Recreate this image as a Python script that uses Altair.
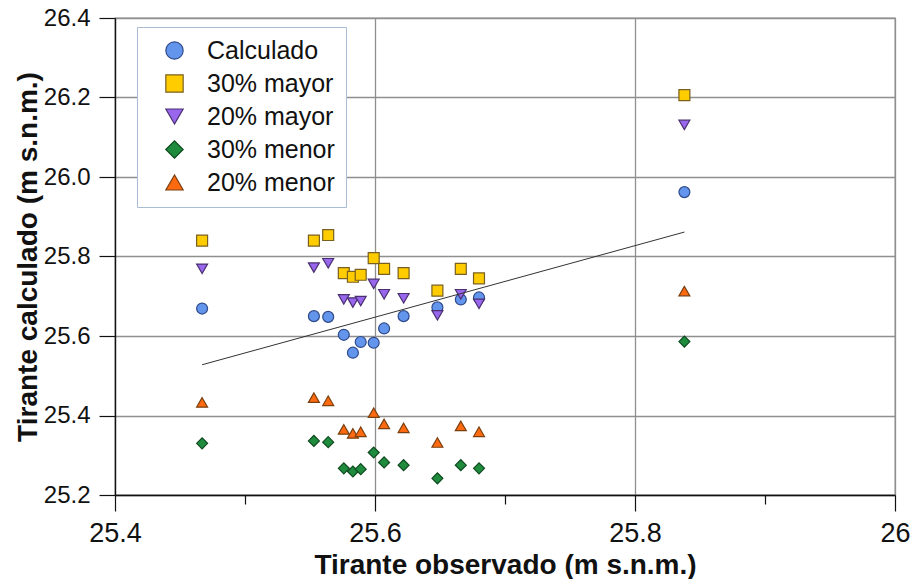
import altair as alt
import pandas as pd

# ---- data ----
x_obs = [25.467, 25.553, 25.564, 25.576, 25.583, 25.589, 25.599, 25.607,
         25.622, 25.648, 25.666, 25.680, 25.838]
calculado = [25.669, 25.650, 25.648, 25.603, 25.558, 25.585, 25.583, 25.619,
             25.650, 25.672, 25.692, 25.697, 25.962]
mayor30 = [25.840, 25.840, 25.854, 25.758, 25.749, 25.754, 25.796, 25.769,
           25.758, 25.714, 25.769, 25.745, 26.206]
mayor20 = [25.769, 25.772, 25.783, 25.692, 25.684, 25.688, 25.731, 25.705,
           25.695, 25.652, 25.705, 25.681, 26.131]
menor30 = [25.330, 25.336, 25.333, 25.267, 25.259, 25.265, 25.307, 25.282,
           25.275, 25.242, 25.275, 25.267, 25.586]
menor20 = [25.433, 25.445, 25.437, 25.365, 25.355, 25.359, 25.407, 25.379,
           25.369, 25.332, 25.374, 25.359, 25.713]

series_names = ["Calculado", "30% mayor", "20% mayor", "30% menor", "20% menor"]
series_vals = [calculado, mayor30, mayor20, menor30, menor20]
fills = ["#6495ED", "#FFCC00", "#9966EE", "#1E8C3C", "#FF6A10"]
strokes = ["#2E4A8A", "#7A6020", "#4A3070", "#0F4A20", "#7A4010"]
shapes = ["circle", "square", "triangle-down", "diamond", "triangle-up"]

x_ticks = [25.4, 25.5, 25.6, 25.7, 25.8, 25.9, 26.0]
y_ticks = [25.2, 25.3, 25.4, 25.5, 25.6, 25.7, 25.8, 25.9, 26.0, 26.1, 26.2, 26.3, 26.4]

rows = []
for name, vals in zip(series_names, series_vals):
    for xv, yv in zip(x_obs, vals):
        rows.append({"obs": xv, "calc": yv, "serie": name})
df = pd.DataFrame(rows)

FONT = "Liberation Sans"
major = "round(datum.value*10) % 2 == 0"

x_axis = alt.Axis(
    values=x_ticks, title="Tirante observado (m s.n.m.)",
    labelExpr=f"{major} ? format(datum.value, '.1~f') : ''",
    tickSize={"condition": {"test": major, "value": 16}, "value": 9},
    gridOpacity={"condition": {"test": major, "value": 1}, "value": 0},
    labelFontSize=27, titleFontSize=28, labelPadding=9, titlePadding=5,
    labelFlush=False,
)
y_axis = alt.Axis(
    values=y_ticks, title="Tirante calculado (m s.n.m.)",
    labelExpr=f"{major} ? format(datum.value, '.1f') : ''",
    tickSize={"condition": {"test": major, "value": 16}, "value": 9},
    gridOpacity={"condition": {"test": major, "value": 1}, "value": 0},
    labelFontSize=24, titleFontSize=28, labelPadding=9, titlePadding=1,
    labelFlush=False,
)

xs = alt.Scale(domain=[25.4, 26.0], nice=False, zero=False)
ys = alt.Scale(domain=[25.2, 26.4], nice=False, zero=False)

leg = alt.Legend(title=None, orient="none", legendX=22, legendY=9)

points = alt.Chart(df).mark_point(filled=True, opacity=1, strokeWidth=1.2).encode(
    x=alt.X("obs:Q", scale=xs, axis=x_axis),
    y=alt.Y("calc:Q", scale=ys, axis=y_axis),
    color=alt.Color("serie:N", scale=alt.Scale(domain=series_names, range=fills), legend=leg),
    shape=alt.Shape("serie:N", scale=alt.Scale(domain=series_names, range=shapes), legend=leg),
    stroke=alt.Stroke("serie:N", scale=alt.Scale(domain=series_names, range=strokes), legend=leg),
    size=alt.value(120),
)

line = alt.Chart(pd.DataFrame({"obs": x_obs, "calc": calculado})).transform_regression(
    "obs", "calc"
).mark_line(color="#333333", strokeWidth=1).encode(
    x=alt.X("obs:Q", scale=xs),
    y=alt.Y("calc:Q", scale=ys),
)

chart = alt.layer(points, line).properties(
    width=780, height=477,
    autosize=alt.AutoSizeParams(type="none"),
    padding={"left": 107, "top": 10, "right": 16, "bottom": 84},
).configure(
    font=FONT,
).configure_axis(
    labelFont=FONT, titleFont=FONT, labelColor="#111111", titleColor="#111111",
    titleFontWeight="bold", domainColor="#111111", domainWidth=1.3,
    tickColor="#111111", tickWidth=1.2, gridColor="#8f8f8f", gridWidth=1.3,
).configure_view(
    stroke="#8f8f8f", strokeWidth=1.3,
).configure_legend(
    labelFont=FONT, labelFontSize=25, labelColor="#111111",
    symbolSize=300, symbolStrokeWidth=1.2, rowPadding=7,
    padding=11, strokeColor="#A9BCD3", fillColor="#ffffff",
    labelOffset=20, symbolOffset=14, labelLimit=400,
)

chart.save("out.html", embed_options={"renderer": "svg", "actions": False})
